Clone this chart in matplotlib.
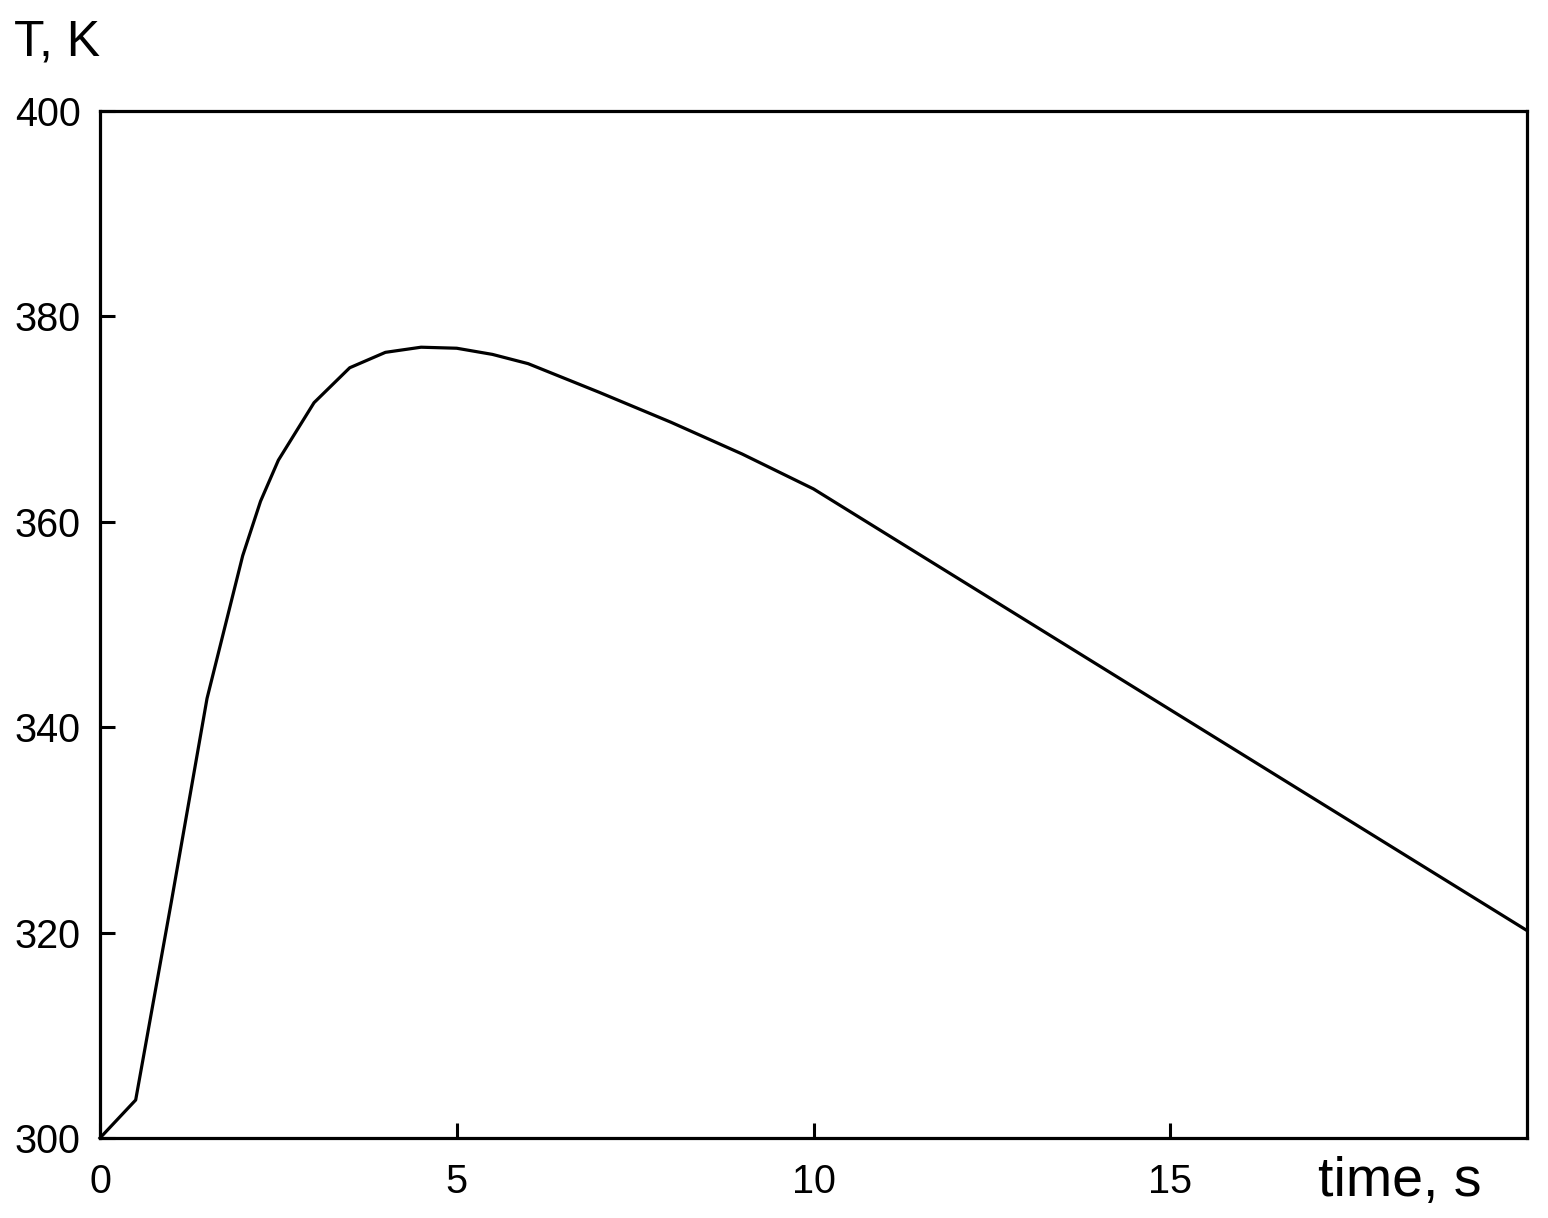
import matplotlib
matplotlib.use("Agg")
import matplotlib.pyplot as plt

plt.rcParams['font.family'] = ['Liberation Sans', 'DejaVu Sans']

# Temperature history.
time_s = [0, 0.5, 1.0, 1.5, 2.0, 2.25, 2.5, 3.0, 3.5, 4.0, 4.5, 5.0, 5.5,
          6.0, 7.0, 8.0, 9.0, 10.0, 15.0, 20.0]
temp_K = [300, 303.7, 323.0, 342.8, 356.7, 362.0, 366.0, 371.6, 375.0, 376.5,
          377.0, 376.9, 376.3, 375.4, 372.6, 369.7, 366.6, 363.2, 341.7, 320.2]

x_ticks = [0, 5, 10, 15]
y_ticks = [300, 320, 340, 360, 380, 400]


def main():
    fig = plt.figure(figsize=(15.48, 12.18), dpi=100)
    ax = fig.add_axes([100 / 1548, 80 / 1218, 1427 / 1548, 1027 / 1218])

    ax.plot(time_s, temp_K, color='black', linewidth=2.3, clip_on=False)

    ax.set_xlim(0, 20)
    ax.set_ylim(300, 400)
    ax.set_xticks(x_ticks)
    ax.set_yticks(y_ticks)
    ax.tick_params(direction='in', length=11, width=2.2, labelsize=28.5,
                   top=False, right=False)
    ax.tick_params(axis='x', pad=18)
    ax.tick_params(axis='y', pad=14)
    for sp in ax.spines.values():
        sp.set_linewidth(2.3)

    # Axis titles sit outside the frame, as in the original.
    fig.text(14 / 1548, 1 - 55 / 1218, 'T, K', fontsize=36, ha='left', va='baseline')
    fig.text(1318 / 1548, 1 - 1196 / 1218, 'time, s', fontsize=40, ha='left', va='baseline')

    fig.savefig('out.png', dpi=100)


if __name__ == '__main__':
    main()
